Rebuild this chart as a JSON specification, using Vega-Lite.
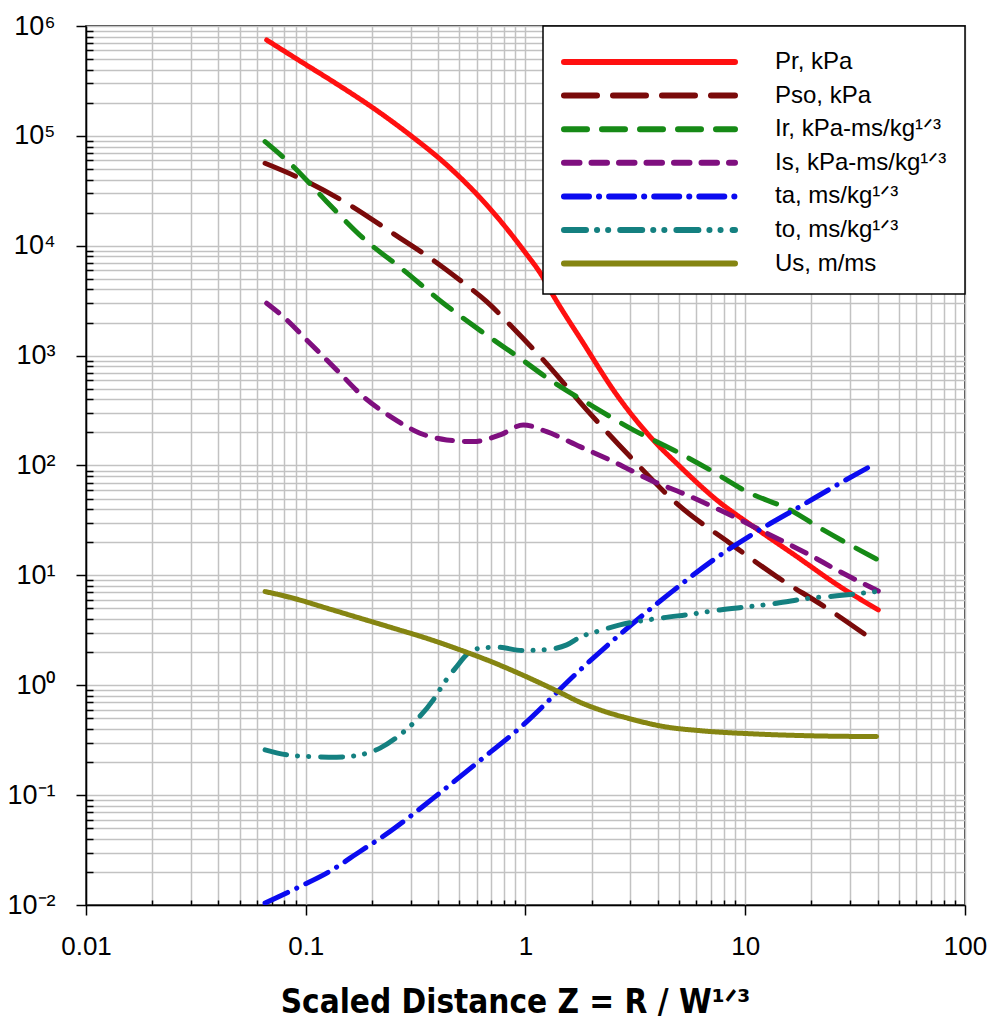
{
  "$schema": "https://vega.github.io/schema/vega-lite/v6.json",
  "width": 879,
  "height": 879,
  "autosize": {"type": "none"},
  "padding": {"left": 86, "top": 26, "right": 28, "bottom": 125},
  "background": "white",
  "config": {
    "view": {"stroke": "black", "strokeWidth": 1.5},
    "font": "Liberation Sans"
  },
  "datasets": {
    "curves": [
      {"series": "Pr, kPa", "z": 0.0664, "v": 746000},
      {"series": "Pr, kPa", "z": 0.0942, "v": 480000},
      {"series": "Pr, kPa", "z": 0.1383, "v": 297000},
      {"series": "Pr, kPa", "z": 0.203, "v": 179000},
      {"series": "Pr, kPa", "z": 0.298, "v": 102000},
      {"series": "Pr, kPa", "z": 0.438, "v": 54400},
      {"series": "Pr, kPa", "z": 0.666, "v": 23500},
      {"series": "Pr, kPa", "z": 0.977, "v": 9160},
      {"series": "Pr, kPa", "z": 1.205, "v": 5093},
      {"series": "Pr, kPa", "z": 1.293, "v": 3960},
      {"series": "Pr, kPa", "z": 1.832, "v": 1300},
      {"series": "Pr, kPa", "z": 2.6, "v": 440},
      {"series": "Pr, kPa", "z": 3.69, "v": 183},
      {"series": "Pr, kPa", "z": 5.05, "v": 97.7},
      {"series": "Pr, kPa", "z": 7.41, "v": 48.6},
      {"series": "Pr, kPa", "z": 10.88, "v": 27.8},
      {"series": "Pr, kPa", "z": 16.55, "v": 15.6},
      {"series": "Pr, kPa", "z": 27.0, "v": 7.9},
      {"series": "Pr, kPa", "z": 40.3, "v": 4.85},

      {"series": "Pso, kPa", "z": 0.0653, "v": 56300},
      {"series": "Pso, kPa", "z": 0.0942, "v": 41100},
      {"series": "Pso, kPa", "z": 0.1536, "v": 24400},
      {"series": "Pso, kPa", "z": 0.2594, "v": 12300},
      {"series": "Pso, kPa", "z": 0.3676, "v": 7745},
      {"series": "Pso, kPa", "z": 0.521, "v": 4600},
      {"series": "Pso, kPa", "z": 0.666, "v": 3100},
      {"series": "Pso, kPa", "z": 0.88, "v": 1775},
      {"series": "Pso, kPa", "z": 1.205, "v": 914},
      {"series": "Pso, kPa", "z": 1.899, "v": 321},
      {"series": "Pso, kPa", "z": 2.99, "v": 120.5},
      {"series": "Pso, kPa", "z": 4.96, "v": 43.8},
      {"series": "Pso, kPa", "z": 8.52, "v": 19.6},
      {"series": "Pso, kPa", "z": 13.9, "v": 9.75},
      {"series": "Pso, kPa", "z": 23.5, "v": 5.03},
      {"series": "Pso, kPa", "z": 39.5, "v": 2.45},

      {"series": "Ir, kPa-ms/kg¹ᐟ³", "z": 0.0653, "v": 88600},
      {"series": "Ir, kPa-ms/kg¹ᐟ³", "z": 0.0863, "v": 54400},
      {"series": "Ir, kPa-ms/kg¹ᐟ³", "z": 0.1246, "v": 25200},
      {"series": "Ir, kPa-ms/kg¹ᐟ³", "z": 0.1827, "v": 11700},
      {"series": "Ir, kPa-ms/kg¹ᐟ³", "z": 0.278, "v": 6024},
      {"series": "Ir, kPa-ms/kg¹ᐟ³", "z": 0.423, "v": 3000},
      {"series": "Ir, kPa-ms/kg¹ᐟ³", "z": 0.632, "v": 1654},
      {"series": "Ir, kPa-ms/kg¹ᐟ³", "z": 0.944, "v": 947},
      {"series": "Ir, kPa-ms/kg¹ᐟ³", "z": 1.293, "v": 601},
      {"series": "Ir, kPa-ms/kg¹ᐟ³", "z": 2.035, "v": 343.6},
      {"series": "Ir, kPa-ms/kg¹ᐟ³", "z": 3.09, "v": 210.9},
      {"series": "Ir, kPa-ms/kg¹ᐟ³", "z": 4.71, "v": 138.6},
      {"series": "Ir, kPa-ms/kg¹ᐟ³", "z": 6.91, "v": 91.2},
      {"series": "Ir, kPa-ms/kg¹ᐟ³", "z": 10.15, "v": 57.9},
      {"series": "Ir, kPa-ms/kg¹ᐟ³", "z": 15.98, "v": 39.4},
      {"series": "Ir, kPa-ms/kg¹ᐟ³", "z": 22.65, "v": 25.9},
      {"series": "Ir, kPa-ms/kg¹ᐟ³", "z": 40.3, "v": 13.8},

      {"series": "Is, kPa-ms/kg¹ᐟ³", "z": 0.0664, "v": 3000},
      {"series": "Is, kPa-ms/kg¹ᐟ³", "z": 0.079, "v": 2263},
      {"series": "Is, kPa-ms/kg¹ᐟ³", "z": 0.1045, "v": 1297},
      {"series": "Is, kPa-ms/kg¹ᐟ³", "z": 0.1383, "v": 741},
      {"series": "Is, kPa-ms/kg¹ᐟ³", "z": 0.1827, "v": 424},
      {"series": "Is, kPa-ms/kg¹ᐟ³", "z": 0.2503, "v": 269},
      {"series": "Is, kPa-ms/kg¹ᐟ³", "z": 0.331, "v": 196.8},
      {"series": "Is, kPa-ms/kg¹ᐟ³", "z": 0.438, "v": 171},
      {"series": "Is, kPa-ms/kg¹ᐟ³", "z": 0.579, "v": 165},
      {"series": "Is, kPa-ms/kg¹ᐟ³", "z": 0.766, "v": 190},
      {"series": "Is, kPa-ms/kg¹ᐟ³", "z": 0.977, "v": 234},
      {"series": "Is, kPa-ms/kg¹ᐟ³", "z": 1.249, "v": 203},
      {"series": "Is, kPa-ms/kg¹ᐟ³", "z": 1.77, "v": 148.6},
      {"series": "Is, kPa-ms/kg¹ᐟ³", "z": 2.51, "v": 108.5},
      {"series": "Is, kPa-ms/kg¹ᐟ³", "z": 3.69, "v": 74},
      {"series": "Is, kPa-ms/kg¹ᐟ³", "z": 5.41, "v": 54},
      {"series": "Is, kPa-ms/kg¹ᐟ³", "z": 8.23, "v": 36.8},
      {"series": "Is, kPa-ms/kg¹ᐟ³", "z": 12.52, "v": 24.2},
      {"series": "Is, kPa-ms/kg¹ᐟ³", "z": 19.0, "v": 15.9},
      {"series": "Is, kPa-ms/kg¹ᐟ³", "z": 27.0, "v": 10.8},
      {"series": "Is, kPa-ms/kg¹ᐟ³", "z": 40.3, "v": 7.2},

      {"series": "ta, ms/kg¹ᐟ³", "z": 0.0653, "v": 0.0104},
      {"series": "ta, ms/kg¹ᐟ³", "z": 0.0942, "v": 0.01474},
      {"series": "ta, ms/kg¹ᐟ³", "z": 0.1246, "v": 0.0195},
      {"series": "ta, ms/kg¹ᐟ³", "z": 0.1766, "v": 0.0307},
      {"series": "ta, ms/kg¹ᐟ³", "z": 0.2417, "v": 0.0466},
      {"series": "ta, ms/kg¹ᐟ³", "z": 0.3805, "v": 0.0939},
      {"series": "ta, ms/kg¹ᐟ³", "z": 0.6, "v": 0.1956},
      {"series": "ta, ms/kg¹ᐟ³", "z": 0.977, "v": 0.436},
      {"series": "ta, ms/kg¹ᐟ³", "z": 1.71, "v": 1.289},
      {"series": "ta, ms/kg¹ᐟ³", "z": 2.786, "v": 3.08},
      {"series": "ta, ms/kg¹ᐟ³", "z": 4.55, "v": 6.89},
      {"series": "ta, ms/kg¹ᐟ³", "z": 7.15, "v": 13.8},
      {"series": "ta, ms/kg¹ᐟ³", "z": 11.27, "v": 25.0},
      {"series": "ta, ms/kg¹ᐟ³", "z": 17.75, "v": 42.3},
      {"series": "ta, ms/kg¹ᐟ³", "z": 27.0, "v": 69},
      {"series": "ta, ms/kg¹ᐟ³", "z": 36.3, "v": 96},

      {"series": "to, ms/kg¹ᐟ³", "z": 0.0653, "v": 0.258},
      {"series": "to, ms/kg¹ᐟ³", "z": 0.0819, "v": 0.2326},
      {"series": "to, ms/kg¹ᐟ³", "z": 0.1045, "v": 0.2245},
      {"series": "to, ms/kg¹ᐟ³", "z": 0.1383, "v": 0.2217},
      {"series": "to, ms/kg¹ᐟ³", "z": 0.1766, "v": 0.2326},
      {"series": "to, ms/kg¹ᐟ³", "z": 0.2178, "v": 0.2677},
      {"series": "to, ms/kg¹ᐟ³", "z": 0.2685, "v": 0.3538},
      {"series": "to, ms/kg¹ᐟ³", "z": 0.3086, "v": 0.452},
      {"series": "to, ms/kg¹ᐟ³", "z": 0.3805, "v": 0.7366},
      {"series": "to, ms/kg¹ᐟ³", "z": 0.4303, "v": 1.08},
      {"series": "to, ms/kg¹ᐟ³", "z": 0.4864, "v": 1.48},
      {"series": "to, ms/kg¹ᐟ³", "z": 0.54, "v": 1.9},
      {"series": "to, ms/kg¹ᐟ³", "z": 0.6, "v": 2.15},
      {"series": "to, ms/kg¹ᐟ³", "z": 0.74, "v": 2.22},
      {"series": "to, ms/kg¹ᐟ³", "z": 0.977, "v": 2.07},
      {"series": "to, ms/kg¹ᐟ³", "z": 1.205, "v": 2.1},
      {"series": "to, ms/kg¹ᐟ³", "z": 1.54, "v": 2.33},
      {"series": "to, ms/kg¹ᐟ³", "z": 1.77, "v": 2.74},
      {"series": "to, ms/kg¹ᐟ³", "z": 2.11, "v": 3.08},
      {"series": "to, ms/kg¹ᐟ³", "z": 2.69, "v": 3.54},
      {"series": "to, ms/kg¹ᐟ³", "z": 4.09, "v": 4.08},
      {"series": "to, ms/kg¹ᐟ³", "z": 5.8, "v": 4.46},
      {"series": "to, ms/kg¹ᐟ³", "z": 7.67, "v": 4.85},
      {"series": "to, ms/kg¹ᐟ³", "z": 10.5, "v": 5.2},
      {"series": "to, ms/kg¹ᐟ³", "z": 13.9, "v": 5.58},
      {"series": "to, ms/kg¹ᐟ³", "z": 19.7, "v": 6.2},
      {"series": "to, ms/kg¹ᐟ³", "z": 26.1, "v": 6.51},
      {"series": "to, ms/kg¹ᐟ³", "z": 39.6, "v": 7.12},

      {"series": "Us, m/ms", "z": 0.0653, "v": 7.12},
      {"series": "Us, m/ms", "z": 0.0877, "v": 6.2},
      {"series": "Us, m/ms", "z": 0.1246, "v": 5.03},
      {"series": "Us, m/ms", "z": 0.1766, "v": 4.08},
      {"series": "Us, m/ms", "z": 0.2503, "v": 3.31},
      {"series": "Us, m/ms", "z": 0.356, "v": 2.67},
      {"series": "Us, m/ms", "z": 0.5035, "v": 2.1},
      {"series": "Us, m/ms", "z": 0.7115, "v": 1.616},
      {"series": "Us, m/ms", "z": 1.013, "v": 1.192},
      {"series": "Us, m/ms", "z": 1.435, "v": 0.86},
      {"series": "Us, m/ms", "z": 1.77, "v": 0.7},
      {"series": "Us, m/ms", "z": 2.18, "v": 0.597},
      {"series": "Us, m/ms", "z": 2.99, "v": 0.495},
      {"series": "Us, m/ms", "z": 4.22, "v": 0.422},
      {"series": "Us, m/ms", "z": 6.42, "v": 0.384},
      {"series": "Us, m/ms", "z": 10.88, "v": 0.361},
      {"series": "Us, m/ms", "z": 18.4, "v": 0.348},
      {"series": "Us, m/ms", "z": 39.6, "v": 0.341}
    ]
  },
  "data": {"name": "curves"},
  "mark": {"type": "line", "strokeWidth": 5, "strokeCap": "round", "strokeJoin": "round", "interpolate": "monotone", "clip": true},
  "encoding": {
    "x": {
      "field": "z", "type": "quantitative",
      "scale": {"type": "log", "domain": [0.01, 100], "nice": false},
      "axis": {
        "values": [0.01,0.02,0.03,0.04,0.05,0.06,0.07,0.08,0.09,0.1,0.2,0.3,0.4,0.5,0.6,0.7,0.8,0.9,1,2,3,4,5,6,7,8,9,10,20,30,40,50,60,70,80,90,100],
        "title": "Scaled Distance Z = R / W¹ᐟ³",
        "titleFont": "'Liberation Sans Narrow', 'DejaVu Sans Condensed', sans-serif",
        "titleFontSize": 33,
        "titleFontWeight": "bold",
        "titleColor": "black",
        "titlePadding": 27,
        "titleX": 429,
        "titleAlign": "center",
        "labelExpr": "abs(log(datum.value)/LN10 - round(log(datum.value)/LN10)) < 0.001 ? datum.value + '' : ''",
        "labelFontSize": 26,
        "labelColor": "black",
        "labelPadding": 18,
        "labelFlush": false,
        "labelOverlap": false,
        "tickColor": "black",
        "tickWidth": 1.5,
        "tickSize": {"condition": {"test": "abs(log(datum.value)/LN10 - round(log(datum.value)/LN10)) < 0.001", "value": 10}, "value": -5},
        "grid": true,
        "gridColor": "#c2c2c2",
        "gridWidth": 1.5,
        "domainColor": "black",
        "domainWidth": 1.5
      }
    },
    "y": {
      "field": "v", "type": "quantitative",
      "scale": {"type": "log", "domain": [0.01, 1000000], "nice": false},
      "axis": {
        "values": [0.01,0.02,0.03,0.04,0.05,0.06,0.07,0.08,0.09,0.1,0.2,0.3,0.4,0.5,0.6,0.7,0.8,0.9,1,2,3,4,5,6,7,8,9,10,20,30,40,50,60,70,80,90,100,200,300,400,500,600,700,800,900,1000,2000,3000,4000,5000,6000,7000,8000,9000,10000,20000,30000,40000,50000,60000,70000,80000,90000,100000,200000,300000,400000,500000,600000,700000,800000,900000,1000000],
        "title": null,
        "labelExpr": "abs(log(datum.value)/LN10 - round(log(datum.value)/LN10)) < 0.001 ? '10' + (datum.value < 0.5 ? '⁻' : '') + ['⁰','¹','²','³','⁴','⁵','⁶'][abs(round(log(datum.value)/LN10))] : ''",
        "labelFontSize": 27,
        "labelColor": "black",
        "labelPadding": 21,
        "labelFlush": false,
        "labelOverlap": false,
        "tickColor": "black",
        "tickWidth": 1.5,
        "tickSize": {"condition": {"test": "abs(log(datum.value)/LN10 - round(log(datum.value)/LN10)) < 0.001", "value": 10}, "value": -7},
        "grid": true,
        "gridColor": "#c2c2c2",
        "gridWidth": 1.5,
        "domainColor": "black",
        "domainWidth": 1.5
      }
    },
    "color": {
      "field": "series", "type": "nominal",
      "scale": {
        "domain": ["Pr, kPa", "Pso, kPa", "Ir, kPa-ms/kg¹ᐟ³", "Is, kPa-ms/kg¹ᐟ³", "ta, ms/kg¹ᐟ³", "to, ms/kg¹ᐟ³", "Us, m/ms"],
        "range": ["#ff1010", "#7a0a0a", "#168a16", "#7f0f7f", "#0b0bf0", "#148080", "#858512"]
      },
      "legend": {
        "title": null, "orient": "top-right", "offset": 0,
        "fillColor": "white", "strokeColor": "black", "padding": 18,
        "symbolType": "M-1,0H10.4", "symbolSize": 900, "symbolStrokeWidth": 6,
        "labelFontSize": 24, "labelColor": "black", "labelOffset": 178, "labelLimit": 400, "rowPadding": 3.6,
        "encode": {"symbols": {"update": {"strokeCap": {"value": "round"}}}, "legend": {"update": {"strokeWidth": {"value": 1.5}}}}
      }
    },
    "strokeDash": {
      "field": "series", "type": "nominal",
      "scale": {
        "domain": ["Pr, kPa", "Pso, kPa", "Ir, kPa-ms/kg¹ᐟ³", "Is, kPa-ms/kg¹ᐟ³", "ta, ms/kg¹ᐟ³", "to, ms/kg¹ᐟ³", "Us, m/ms"],
        "range": [[1, 0], [33, 16], [23, 15], [15.5, 12], [25, 10, 0.1, 10], [22, 11, 0.1, 11, 0.1, 12], [1, 0]]
      },
      "legend": {
        "title": null, "orient": "top-right", "offset": 0,
        "fillColor": "white", "strokeColor": "black", "padding": 18,
        "symbolType": "M-1,0H10.4", "symbolSize": 900, "symbolStrokeWidth": 6,
        "labelFontSize": 24, "labelColor": "black", "labelOffset": 178, "labelLimit": 400, "rowPadding": 3.6,
        "encode": {"symbols": {"update": {"strokeCap": {"value": "round"}}}, "legend": {"update": {"strokeWidth": {"value": 1.5}}}}
      }
    }
  }
}
